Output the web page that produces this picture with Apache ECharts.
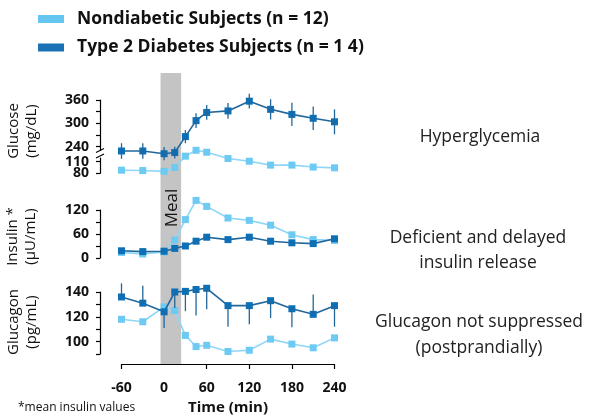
<!DOCTYPE html>
<html><head><meta charset="utf-8">
<script src="https://cdn.jsdelivr.net/npm/echarts@6/dist/echarts.min.js"></script>
<style>html,body{margin:0;padding:0;background:#fff}#c{width:589px;height:420px}</style>
</head><body><div id="c"></div>
<script>
// ---- data ----
const times = [-60, -30, 0, 15, 30, 45, 60, 90, 120, 150, 180, 210, 240];
const glucoseND = [88, 87, 85, 95, 124, 139, 134, 118, 111, 101, 101, 96, 94];
const glucoseT2D = [229, 229, 222, 225, 266, 307, 328, 332, 357, 336, 323, 313, 304];
const glucoseT2DErr = [20, 20, 17, 15, 17, 19, 19, 20, 19, 26, 30, 30, 32];
const insulinND = [14, 10, 15, 45, 96, 144, 129, 100, 94, 82, 58, 46, 44];
const insulinT2D = [18, 16, 17, 24, 30, 42, 52, 46, 52, 42, 38, 36, 48];
const glucagonND = [118, 116, 128, 125, 105, 96, 97, 92, 93, 102, 98, 95, 103];
const glucagonT2D = [136, 131, 124, 140, 140.5, 142, 143, 129, 129, 133, 126.5, 122, 129];
const glucagonT2DErr = [11, 14, -13, -13, -16, -21, -17, -17, -15, -14, -15, 16, -17]; // one-sided
const mealWindow = [-5, 24];
const xTickMarks = [-60, 60, 120, 180, 240];
const xTickLabels = [-60, 0, 60, 120, 180, 240];
const glucoseHiTicks = [240, 270, 300, 330, 360];
const glucoseHiLabels = [240, 300, 360];
const glucoseLoTicks = [80, 110];
const glucoseLoLabelA = [80];
const glucoseLoLabelB = [110];
const nameND = 'Nondiabetic Subjects (n = 12)';
const nameT2D = 'Type 2 Diabetes Subjects (n = 1 4)';

// ---- style ----
const FONT = '"Open Sans", "Noto Sans", sans-serif';
const cLight = '#6ccaf3', cLightLine = '#8ed6f7';
const cDark = '#0d6fb5', cDarkLine = '#22679c';
const L = 121.5, R = 254.5, YOFF = 21.5;

const chart = echarts.init(document.getElementById('c'), null, {renderer: 'canvas'});

function pts(arr) { return times.map((t, i) => [t, arr[i]]); }
const labelBase = {margin: 11, fontSize: 14, fontWeight: 'bold', color: '#111', fontFamily: FONT,
  hideOverlap: false, showMinLabel: true, showMaxLabel: true};
const tickBase = {show: true, length: 4, lineStyle: {color: '#000', width: 1.2}};
function xAx(gi, show) {
  const a = {type: 'value', gridIndex: gi, min: -60, max: 240, show: !!show, splitLine: {show: false}};
  if (show) {
    Object.assign(a, {
      offset: 10,
      axisLine: {show: true, onZero: false, lineStyle: {color: '#000', width: 1.2}},
      axisTick: {show: true, length: 5, customValues: xTickMarks, lineStyle: {color: '#000', width: 1.2}},
      axisLabel: Object.assign({}, labelBase, {customValues: xTickLabels, margin: 17}),
      name: 'Time (min)', nameLocation: 'middle', nameGap: 36,
      nameTextStyle: {fontSize: 15, fontWeight: 'bold', color: '#111', fontFamily: FONT}
    });
  }
  return a;
}
function yAx(gi, opt) {
  return Object.assign({
    type: 'value', gridIndex: gi, position: 'left', splitLine: {show: false}, offset: YOFF,
    axisLine: {show: true, onZero: false, lineStyle: {color: '#000', width: 1.2}},
    axisTick: tickBase,
    axisLabel: labelBase
  }, opt);
}
function lineS(name, gi, arr, color, lcolor, z) {
  return {
    name, type: 'line', xAxisIndex: gi, yAxisIndex: gi, data: pts(arr), clip: false,
    symbol: 'rect', symbolSize: 7, z,
    itemStyle: {color}, lineStyle: {color: lcolor, width: 1.6}, emphasis: {disabled: true}
  };
}
function errS(gi, vals, errs, twoSided) {
  return {
    type: 'custom', xAxisIndex: gi, yAxisIndex: gi, z: 6, silent: true,
    data: times.map((t, i) => {
      const lo = twoSided ? vals[i] - errs[i] : Math.min(vals[i], vals[i] + errs[i]);
      const hi = twoSided ? vals[i] + errs[i] : Math.max(vals[i], vals[i] + errs[i]);
      return [t, lo, hi];
    }),
    encode: {x: 0, y: [1, 2]},
    renderItem(params, api) {
      const a = api.coord([api.value(0), api.value(1)]);
      const b = api.coord([api.value(0), api.value(2)]);
      return {type: 'line', shape: {x1: a[0], y1: a[1], x2: b[0], y2: b[1]},
        style: {stroke: cDarkLine, lineWidth: 1.3}};
    }
  };
}

const option = {
  backgroundColor: '#fff',
  animation: false,
  textStyle: {fontFamily: FONT},
  legend: {
    orient: 'vertical', left: 38, top: 9, padding: 0, icon: 'rect', itemWidth: 26, itemHeight: 8, itemGap: 8.5,
    selectedMode: false,
    data: [{name: nameND, itemStyle: {color: '#66c6f0'}}, {name: nameT2D, itemStyle: {color: '#1a72b5'}}],
    textStyle: {fontSize: 17.5, fontWeight: 'bold', color: '#111', fontFamily: FONT, lineHeight: 20, padding: [0, 0, 0, 8]}
  },
  grid: [
    {left: L, right: R, top: 73, bottom: 56},
    {left: L, right: R, top: 100, height: 50.6},
    {left: L, right: R, top: 157.7, height: 15.6},
    {left: L, right: R, top: 210, height: 48},
    {left: L, right: R, top: 292, height: 62}
  ],
  xAxis: [xAx(0), xAx(1), xAx(2), xAx(3), xAx(4, true)],
  yAxis: [
    {type: 'value', gridIndex: 0, min: 0, max: 1, show: false},
    yAx(1, {min: 230, max: 360, axisTick: Object.assign({}, tickBase, {customValues: glucoseHiTicks}),
      axisLabel: Object.assign({}, labelBase, {customValues: glucoseHiLabels})}),
    yAx(2, {min: 80, max: 120, axisTick: Object.assign({}, tickBase, {customValues: glucoseLoTicks}),
      axisLabel: Object.assign({}, labelBase, {customValues: glucoseLoLabelA})}),
    yAx(3, {min: 0, max: 120, interval: 30,
      axisLabel: Object.assign({}, labelBase, {formatter: v => (v % 60 === 0 ? String(v) : '')})}),
    yAx(4, {min: 90, max: 140, interval: 10,
      axisLabel: Object.assign({}, labelBase, {formatter: v => (v % 20 === 0 ? String(v) : '')})}),
    yAx(2, {min: 80, max: 120, axisLine: {show: false}, axisTick: {show: false},
      axisLabel: Object.assign({}, labelBase, {customValues: glucoseLoLabelB})})
  ],
  series: [
    {
      type: 'custom', xAxisIndex: 0, yAxisIndex: 0, z: 0, silent: true,
      data: [[mealWindow[0], mealWindow[1], 0, 1]], encode: {x: [0, 1], y: [2, 3]},
      renderItem(params, api) {
        const p0 = api.coord([api.value(0), api.value(3)]);
        const p1 = api.coord([api.value(1), api.value(2)]);
        return {type: 'rect', shape: {x: p0[0], y: p0[1], width: p1[0] - p0[0], height: p1[1] - p0[1]},
          style: {fill: '#c4c4c4'}};
      }
    },
    lineS(nameND, 2, glucoseND, cLight, cLightLine, 3),
    lineS(nameT2D, 1, glucoseT2D, cDark, cDarkLine, 4),
    errS(1, glucoseT2D, glucoseT2DErr, true),
    lineS(nameND, 3, insulinND, cLight, cLightLine, 3),
    lineS(nameT2D, 3, insulinT2D, cDark, cDarkLine, 4),
    lineS(nameND, 4, glucagonND, cLight, cLightLine, 3),
    lineS(nameT2D, 4, glucagonT2D, cDark, cDarkLine, 4),
    errS(4, glucagonT2D, glucagonT2DErr, false)
  ],
  graphic: [
    {type: 'text', x: 23, y: 131, rotation: Math.PI / 2, z: 10,
      style: {text: 'Glucose\n(mg/dL)', fontSize: 15, fontFamily: FONT, fill: '#111', lineHeight: 18,
        align: 'center', verticalAlign: 'middle', textAlign: 'center', textVerticalAlign: 'middle'}},
    {type: 'text', x: 22, y: 236.5, rotation: Math.PI / 2, z: 10,
      style: {text: 'Insulin *\n(µU/mL)', fontSize: 15, fontFamily: FONT, fill: '#111', lineHeight: 18,
        align: 'center', verticalAlign: 'middle', textAlign: 'center', textVerticalAlign: 'middle'}},
    {type: 'text', x: 23, y: 322, rotation: Math.PI / 2, z: 10,
      style: {text: 'Glucagon\n(pg/mL)', fontSize: 15, fontFamily: FONT, fill: '#111', lineHeight: 18,
        align: 'center', verticalAlign: 'middle', textAlign: 'center', textVerticalAlign: 'middle'}},
    {type: 'text', x: 172, y: 208, rotation: Math.PI / 2, z: 10,
      style: {text: 'Meal', fontSize: 17, fontFamily: FONT, fill: '#111',
        align: 'center', verticalAlign: 'middle', textAlign: 'center', textVerticalAlign: 'middle'}},
    {type: 'text', x: 480, y: 137.5, z: 10,
      style: {text: 'Hyperglycemia', fontSize: 17.5, fontFamily: FONT, fill: '#222',
        align: 'center', verticalAlign: 'middle', textAlign: 'center', textVerticalAlign: 'middle'}},
    {type: 'text', x: 478, y: 251, z: 10,
      style: {text: 'Deficient and delayed\ninsulin release', fontSize: 17.5, fontFamily: FONT, fill: '#222', lineHeight: 25,
        align: 'center', verticalAlign: 'middle', textAlign: 'center', textVerticalAlign: 'middle'}},
    {type: 'text', x: 479, y: 335, z: 10,
      style: {text: 'Glucagon not suppressed\n(postprandially)', fontSize: 17.5, fontFamily: FONT, fill: '#222', lineHeight: 26,
        align: 'center', verticalAlign: 'middle', textAlign: 'center', textVerticalAlign: 'middle'}},
    {type: 'text', x: 18, y: 408, z: 10,
      style: {text: '*mean insulin values', fontSize: 12, fontFamily: FONT, fill: '#111',
        align: 'left', verticalAlign: 'middle', textAlign: 'left', textVerticalAlign: 'middle'}},
    {type: 'rect', z: 9, shape: {x: 97, y: 150.6, width: 6, height: 7}, style: {fill: '#fff'}},
    {type: 'line', z: 10, shape: {x1: 96, y1: 152.5, x2: 104, y2: 148.5}, style: {stroke: '#000', lineWidth: 1.2}},
    {type: 'line', z: 10, shape: {x1: 96, y1: 158, x2: 104, y2: 154}, style: {stroke: '#000', lineWidth: 1.2}}
  ]
};
chart.setOption(option);
</script>
</body></html>
